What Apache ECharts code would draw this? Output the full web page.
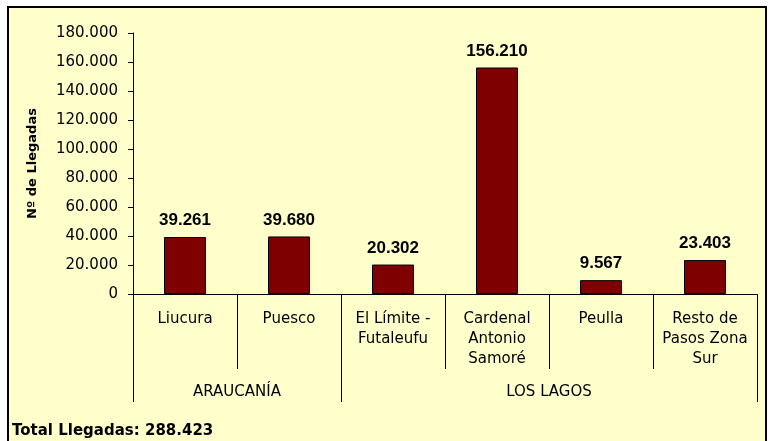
<!DOCTYPE html>
<html>
<head>
<meta charset="utf-8">
<script src="https://cdn.jsdelivr.net/npm/echarts@6/dist/echarts.min.js"></script>
<style>
  html, body { margin: 0; padding: 0; background: #fff; }
  #chart { width: 771px; height: 441px; }
</style>
</head>
<body>
<div id="chart"></div>
<script>
// pasos fronterizos (categorias) y llegadas
const pasos = ['Liucura', 'Puesco', 'El Límite -\nFutaleufu', 'Cardenal\nAntonio\nSamoré', 'Peulla', 'Resto de\nPasos Zona\nSur'];
const llegadas = [39261, 39680, 20302, 156210, 9567, 23403];
// regiones, sobre los bordes de las categorias (7 bordes)
const regiones = ['', 'ARAUCANÍA', '', '', 'LOS LAGOS', '', ''];
const bordesRegion = [0, 2, 6];
const totalTexto = 'Total Llegadas: 288.423';

const fmt = v => String(v).replace(/\B(?=(\d{3})+(?!\d))/g, '.');
const font = 'DejaVu Sans, sans-serif';

const chart = echarts.init(document.getElementById('chart'));
chart.setOption({
  animation: false,
  textStyle: { fontFamily: font, color: '#000' },
  graphic: [
    {
      type: 'rect', z: -10, silent: true,
      shape: { x: 8, y: 7, width: 758, height: 440 },
      style: { fill: '#FFFFCC', stroke: '#000', lineWidth: 2 }
    },
    {
      type: 'text', left: 12, top: 424,
      style: { text: totalTexto, font: 'bold 15px ' + font, fill: '#000' }
    }
  ],
  grid: { left: 133, right: 14, top: 33, bottom: 147 },
  xAxis: [
    {
      type: 'category',
      data: pasos,
      axisLine: { lineStyle: { color: '#000', width: 1 } },
      axisTick: { show: true, interval: 0, length: 75, lineStyle: { color: '#000' } },
      axisLabel: { interval: 0, color: '#000', fontSize: 15, lineHeight: 20, margin: 15 }
    },
    {
      type: 'category',
      position: 'bottom',
      offset: 0,
      boundaryGap: false,
      data: regiones,
      axisLine: { show: false },
      axisTick: {
        show: true,
        length: 108,
        interval: (i) => bordesRegion.indexOf(i) >= 0,
        lineStyle: { color: '#000' }
      },
      axisLabel: { interval: 0, color: '#000', fontSize: 15, margin: 91 }
    }
  ],
  yAxis: {
    type: 'value',
    min: 0,
    max: 180000,
    interval: 20000,
    name: 'Nº de Llegadas',
    nameLocation: 'middle',
    nameGap: 94,
    nameTextStyle: { fontWeight: 'bold', fontSize: 13, color: '#000' },
    axisLine: { show: true, lineStyle: { color: '#000' } },
    axisTick: { show: true, length: 5, lineStyle: { color: '#000' } },
    splitLine: { show: false },
    axisLabel: { color: '#000', fontSize: 15, margin: 15, formatter: fmt }
  },
  series: [{
    type: 'bar',
    data: llegadas,
    barWidth: 42,
    itemStyle: { color: '#7F0000', borderColor: '#000', borderWidth: 1 },
    label: {
      show: true,
      position: 'top',
      distance: 8,
      fontFamily: 'Liberation Sans, Arial, sans-serif',
      fontWeight: 'bold',
      fontSize: 17,
      color: '#000',
      formatter: p => fmt(p.value)
    }
  }]
});
</script>
</body>
</html>
